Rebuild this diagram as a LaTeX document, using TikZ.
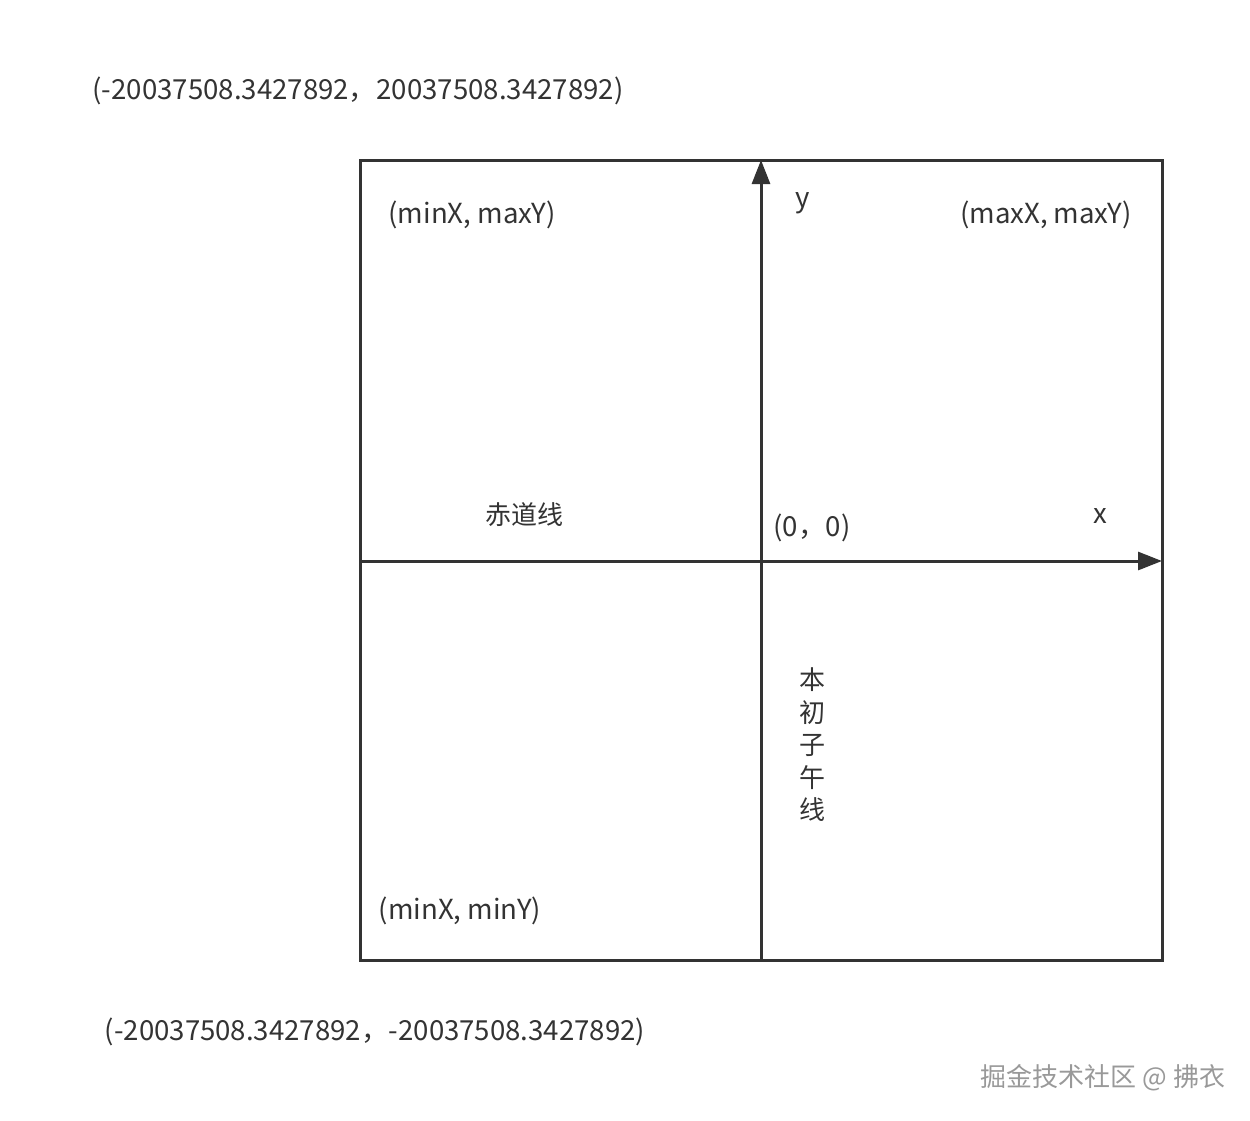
\documentclass[tikz,border=0pt]{standalone}
\usepackage{fontspec}
\setmainfont{Noto Sans CJK SC}
\usetikzlibrary{arrows.meta}
\definecolor{ink}{HTML}{333333}

\begin{document}
\begin{tikzpicture}[x=0.5pt,y=-0.5pt]
\tikzset{label/.style={text=ink,inner sep=0pt,font=\fontsize{13}{16}\selectfont},
  coord/.style={label,font=\fontsize{13.8}{16}\selectfont},
  axis/.style={draw=ink,line width=1.5pt,-{Triangle[width=9pt,length=12pt]}},
  frame/.style={draw=ink,line width=1.5pt}}
\useasboundingbox (0,0) rectangle (1250,1121);
% frame and axes
\draw [frame] (360,160) rectangle (1162,960);
\coordinate (ybot) at (761,960);
\coordinate (ytop) at (761,160);
\coordinate (xleft) at (360,561);
\coordinate (xright) at (1162,561);
\draw [axis] (ybot) -- (ytop);
\draw [axis] (xleft) -- (xright);
% texts
\node [coord] (topleft) at (358,91) {(-20037508.3427892，20037508.3427892)};
\node [coord] (minxmaxy) at (472,215) {(minX, maxY)};
\node [coord] (ylab) at (803,203) {y};
\node [coord] (maxxmaxy) at (1046,215) {(maxX, maxY)};
\node [label] (equator) at (524,515) {赤道线};
\node [coord] (origin) at (812,528) {(0，0)};
\node [coord] (xlab) at (1100,516) {x};
\node [label,align=center,font=\fontsize{13}{16.25}\selectfont] (meridian) at (812,745) {本\\初\\子\\午\\线};
\node [coord] (minxminy) at (460,911) {(minX, minY)};
\node [coord] (botleft) at (375,1032) {(-20037508.3427892，-20037508.3427892)};
\node [label,text=gray!80] (mark) at (1103,1078) {掘金技术社区 @ 拂衣};
\end{tikzpicture}
\end{document}
